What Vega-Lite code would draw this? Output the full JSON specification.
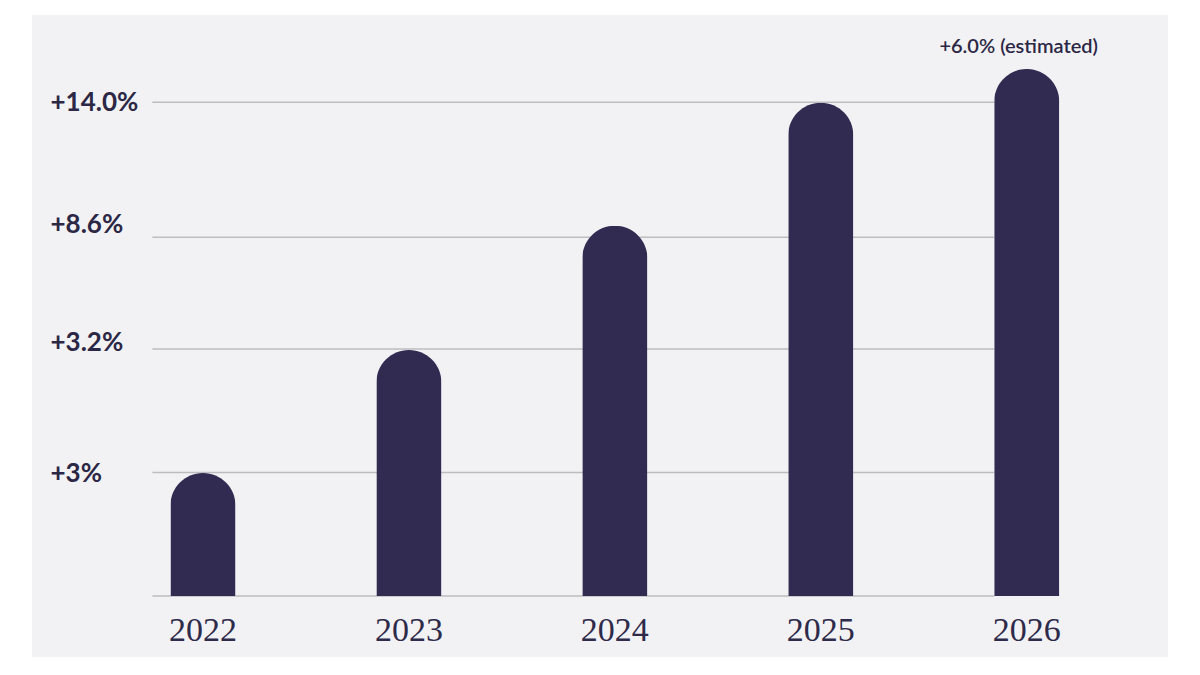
{
  "$schema": "https://vega.github.io/schema/vega-lite/v6.json",
  "width": 1136,
  "height": 642,
  "autosize": {"type": "none"},
  "padding": {"left": 32, "top": 15, "right": 32, "bottom": 18},
  "background": "#ffffff",
  "config": {
    "view": {"fill": "#f2f2f4", "stroke": null},
    "axis": {"domain": false, "ticks": false, "tickSize": 0, "grid": false, "title": null}
  },
  "datasets": {
    "bars": [
      {"year": "2022", "level": 10.0, "note": ""},
      {"year": "2023", "level": 20.0, "note": ""},
      {"year": "2024", "level": 30.1, "note": ""},
      {"year": "2025", "level": 40.1, "note": ""},
      {"year": "2026", "level": 42.85, "note": "+6.0% (estimated)"}
    ],
    "grid": [
      {"level": 0},
      {"level": 10.04},
      {"level": 20.08},
      {"level": 29.16},
      {"level": 40.14}
    ]
  },
  "resolve": {"axis": {"x": "shared", "y": "shared"}},
  "encoding": {
    "x": {
      "type": "nominal",
      "scale": {
        "domain": ["2022", "2023", "2024", "2025", "2026"],
        "paddingInner": 0.684,
        "paddingOuter": 0.6,
        "align": 0.56
      },
      "axis": {
        "bandPosition": 0.5,
        "labelAngle": 0,
        "labelFont": "Liberation Serif",
        "labelFontSize": 34,
        "labelColor": "#2e2a4a",
        "labelBaseline": "alphabetic",
        "labelPadding": -17
      }
    },
    "y": {
      "type": "quantitative",
      "scale": {"domain": [-4.96, 47.24], "nice": false, "zero": false},
      "axis": {
        "values": [10, 20.6, 30.2, 40.16],
        "labelExpr": "datum.value < 15 ? '+3%' : datum.value < 25 ? '+3.2%' : datum.value < 35 ? '+8.6%' : '+14.0%'",
        "labelAlign": "left",
        "labelBaseline": "middle",
        "labelPadding": -18,
        "labelFont": "Lato",
        "labelFontWeight": "bold",
        "labelFontSize": 26,
        "labelColor": "#2b2745"
      }
    }
  },
  "layer": [
    {
      "data": {"name": "grid"},
      "mark": {"type": "rule", "color": "#bdbdbf", "strokeWidth": 1.5, "xOffset": -18},
      "encoding": {
        "x": {"datum": "2022", "bandPosition": 0},
        "x2": {"datum": "2026", "bandPosition": 0},
        "y": {"field": "level"}
      }
    },
    {
      "data": {"name": "bars"},
      "mark": {
        "type": "bar",
        "color": "#312b52",
        "cornerRadiusTopLeft": 32.5,
        "cornerRadiusTopRight": 32.5
      },
      "encoding": {
        "x": {"field": "year"},
        "y": {"field": "level"}
      }
    },
    {
      "data": {"name": "bars"},
      "transform": [{"filter": "datum.note != ''"}],
      "mark": {
        "type": "text",
        "font": "Lato",
        "fontSize": 20,
        "fontWeight": 600,
        "color": "#2b2745",
        "baseline": "middle",
        "dy": -22,
        "dx": -8
      },
      "encoding": {
        "x": {"field": "year"},
        "y": {"field": "level"},
        "text": {"field": "note"}
      }
    }
  ]
}
